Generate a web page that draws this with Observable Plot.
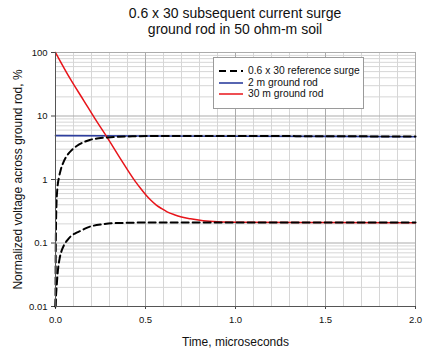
<!DOCTYPE html>
<html><head><meta charset="utf-8">
<script src="https://cdn.jsdelivr.net/npm/d3@7"></script>
<script src="https://cdn.jsdelivr.net/npm/@observablehq/plot@0.6"></script>
<style>
body{margin:0;background:#fff;font-family:"Liberation Sans",Arial,sans-serif;}
#wrap{position:relative;width:432px;height:354px;overflow:hidden;}
#title{position:absolute;left:55px;top:6px;width:360px;text-align:center;font-size:14px;line-height:15.5px;color:#111;}
#chart{position:absolute;left:0;top:0;}
#legend{position:absolute;left:213px;top:57px;width:149px;height:50px;background:#fff;border:1px solid #9a9a9a;font-size:10.3px;color:#111;}
#legend .row{position:absolute;left:0;height:12px;}
#legend svg{position:absolute;left:5px;top:0;}
#legend span{position:absolute;left:34px;top:-1px;white-space:nowrap;line-height:13px;}
</style></head><body>
<div id="wrap">
<div id="chart"></div>
<div id="title">0.6 x 30 subsequent current surge<br>ground rod in 50 ohm-m soil</div>
<div id="legend"></div>
</div>
<script>
// Series: 0.6 x 30 reference surge scaled to 2 m rod (upper dashed)
const refHighT = [0, 0.001, 0.003, 0.006, 0.01, 0.02, 0.03, 0.045, 0.065, 0.09, 0.12, 0.155, 0.19, 0.24, 0.29, 0.35, 0.45, 0.6, 1.0, 1.5, 2.0];
const refHighV = [0.01, 0.05, 0.2, 0.45, 0.7, 1.1, 1.45, 1.9, 2.4, 2.9, 3.4, 3.85, 4.2, 4.45, 4.6, 4.72, 4.8, 4.85, 4.85, 4.8, 4.75];
// Reference surge scaled to 30 m rod (lower dashed)
const refLowT = [0, 0.003, 0.006, 0.013, 0.024, 0.035, 0.046, 0.065, 0.083, 0.11, 0.139, 0.17, 0.21, 0.26, 0.31, 0.4, 0.5, 1.0, 1.5, 2.0];
const refLowV = [0.01, 0.015, 0.02, 0.036, 0.059, 0.077, 0.091, 0.11, 0.126, 0.142, 0.155, 0.172, 0.187, 0.197, 0.204, 0.208, 0.21, 0.21, 0.21, 0.21];
// 2 m ground rod
const rod2T = [0, 0.5, 1.0, 1.5, 2.0];
const rod2V = [4.9, 4.85, 4.8, 4.78, 4.72];
// 30 m ground rod
const rod30T = [0, 0.083, 0.157, 0.22, 0.287, 0.356, 0.44, 0.47, 0.5, 0.53, 0.56, 0.59, 0.62, 0.66, 0.7, 0.75, 0.82, 0.9, 1.0, 1.5, 2.0];
const rod30V = [100, 38, 17.5, 9, 4.6, 2.23, 0.96, 0.74, 0.58, 0.47, 0.395, 0.347, 0.31, 0.279, 0.257, 0.24, 0.224, 0.216, 0.213, 0.21, 0.208];

const xTicks = [0, 0.5, 1.0, 1.5, 2.0];
const yTicks = [0.01, 0.1, 1, 10, 100];
const legendLabels = ["0.6 x 30 reference surge", "2 m ground rod", "30 m ground rod"];

const zip = (ts, vs) => ts.map((t, i) => ({t, v: vs[i]}));
const xMinor = d3.range(1, 20).map(i => i / 10).filter(d => Math.abs(d * 2 - Math.round(d * 2)) > 1e-9);
const yMinor = [0.01, 0.1, 1, 10].flatMap(b => d3.range(2, 10).map(k => +(b * k).toPrecision(3)));

const RED = "#e8141a", BLUE = "#2e3f9e";

const chart = Plot.plot({
  width: 432, height: 354,
  marginLeft: 55, marginRight: 17, marginTop: 52, marginBottom: 48,
  style: {fontFamily: '"Liberation Sans", Arial, sans-serif', background: "transparent", color: "#111"},
  x: {domain: [0, 2]},
  y: {type: "log", domain: [0.01, 100]},
  marks: [
    Plot.ruleX(xMinor, {stroke: "#d6d6d6", strokeWidth: 1}),
    Plot.ruleY(yMinor, {stroke: "#d6d6d6", strokeWidth: 1}),
    Plot.ruleX(xTicks.slice(1), {stroke: "#ababab", strokeWidth: 1}),
    Plot.ruleY(yTicks.slice(1), {stroke: "#ababab", strokeWidth: 1}),
    Plot.axisY({ticks: yTicks, tickFormat: d => String(d), tickSize: 4, tickPadding: 4, fontSize: 9.5, label: null, stroke: "#444"}),
    Plot.axisX({ticks: xTicks, tickFormat: d3.format(".1f"), tickSize: 3, tickPadding: 7, fontSize: 9.5, label: null, stroke: "#444"}),
    Plot.axisY({ticks: [], label: "Normalized voltage across ground rod, %", labelAnchor: "center", labelArrow: "none", labelOffset: 42, fontSize: 12}),
    Plot.axisX({ticks: [], label: "Time, microseconds", labelAnchor: "center", labelArrow: "none", labelOffset: 39, fontSize: 12}),
    Plot.line(zip(rod2T, rod2V), {x: "t", y: "v", stroke: BLUE, strokeWidth: 1.6}),
    Plot.line(zip(rod30T, rod30V), {x: "t", y: "v", stroke: RED, strokeWidth: 1.5, curve: "monotone-x"}),
    Plot.line(zip(refHighT, refHighV), {x: "t", y: "v", stroke: "#000", strokeWidth: 2, strokeDasharray: "7,4", curve: "monotone-x"}),
    Plot.line(zip(refLowT, refLowV), {x: "t", y: "v", stroke: "#000", strokeWidth: 2, strokeDasharray: "7,4", curve: "monotone-x"}),
    Plot.ruleX([0], {stroke: "#555", strokeWidth: 1}),
    Plot.ruleY([0.01], {stroke: "#555", strokeWidth: 1})
  ]
});
document.getElementById("chart").appendChild(chart);

const styles = [
  {stroke: "#000", width: 2, dash: "7,4"},
  {stroke: BLUE, width: 1.6, dash: null},
  {stroke: RED, width: 1.5, dash: null}
];
const leg = document.getElementById("legend");
const rowTops = [7, 19, 30];
legendLabels.forEach((lab, i) => {
  const row = document.createElement("div");
  row.className = "row";
  row.style.top = rowTops[i] + "px";
  const s = styles[i];
  row.innerHTML = `<svg width="26" height="12"><line x1="0" x2="24" y1="6" y2="6" stroke="${s.stroke}" stroke-width="${s.width}" ${s.dash ? `stroke-dasharray="${s.dash}"` : ""}/></svg><span>${lab}</span>`;
  leg.appendChild(row);
});
</script>
</body></html>
